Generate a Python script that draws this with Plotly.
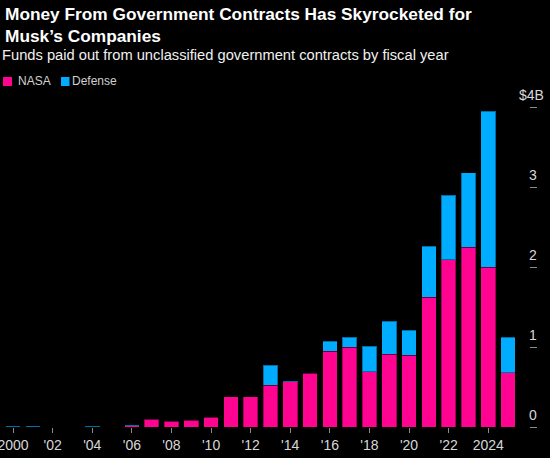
import plotly.graph_objects as go

years = list(range(2000, 2026))
nasa = [0.0, 0.0, 0.0, 0.0, 0.0, 0.0, 0.015, 0.096, 0.075, 0.083, 0.12, 0.38, 0.38,
        0.525, 0.565, 0.675, 0.95, 1.0, 0.69, 0.91, 0.90, 1.625, 2.09, 2.25, 2.0, 0.68]
defense = [0.012, 0.008, 0.005, 0.003, 0.008, 0.003, 0.004, 0.0, 0.006, 0.0, 0.0, 0.0, 0.0,
           0.245, 0.01, 0.0, 0.12, 0.12, 0.32, 0.415, 0.31, 0.635, 0.81, 0.93, 1.95, 0.445]

x_ticks = list(range(2000, 2025, 2))
x_labels = ["2000"] + ["'%02d" % (y % 100) for y in x_ticks[1:-1]] + ["2024"]
y_ticks = [0, 1, 2, 3, 4]
y_labels = ["0", "1", "2", "3", "$4B"]

pink = "#ff0391"
blue = "#00acff"
font = "Liberation Sans"

# plot area: 529 px wide, 332 px tall, top at 95 px
W, H, TOP = 529, 332, 95


def px_x(p):
    return p / W


def px_y(p):
    return 1 + (TOP - p) / H


fig = go.Figure()
fig.add_trace(go.Bar(x=years, y=nasa, name="NASA", marker_color=pink,
                     marker_line=dict(color="rgba(0,0,0,0.35)", width=1)))
fig.add_trace(go.Bar(x=years, y=defense, name="Defense", marker_color=blue,
                     marker_line=dict(color="rgba(0,0,0,0.35)", width=1)))

fig.update_layout(
    width=550, height=458,
    barmode="stack", bargap=0.26,
    paper_bgcolor="black", plot_bgcolor="black",
    margin=dict(l=0, r=21, t=95, b=31),
    font=dict(family=font, color="#d8d8d8"),
    showlegend=False,
)

# title + subtitle
fig.add_annotation(
    text="<b>Money From Government Contracts Has Skyrocketed for<br>Musk’s Companies</b>",
    xref="paper", yref="paper", x=px_x(3), y=px_y(2), xanchor="left", yanchor="top",
    align="left", showarrow=False, font=dict(family=font, size=17.3, color="white"),
)
fig.add_annotation(
    text="Funds paid out from unclassified government contracts by fiscal year",
    xref="paper", yref="paper", x=px_x(0), y=px_y(55), xanchor="left", yanchor="middle",
    showarrow=False, font=dict(family=font, size=14.7, color="#f0f0f0"),
)

# legend (manual so the swatch sits close to its label)
for name, color, x0, x1, xt in [("NASA", pink, 3, 12, 15.5), ("Defense", blue, 61, 69.5, 70)]:
    fig.add_shape(type="rect", xref="paper", yref="paper",
                  x0=px_x(x0), x1=px_x(x1), y0=px_y(86), y1=px_y(77),
                  fillcolor=color, line_width=0)
    fig.add_annotation(text=name, xref="paper", yref="paper", x=px_x(xt), y=px_y(81.5),
                       xanchor="left", yanchor="middle", showarrow=False,
                       font=dict(family=font, size=12, color="#d0d0d0"))

# y labels sit above their tick marks; the "$" hangs left of the digit column
for val, lab in zip(y_ticks, y_labels):
    hang = lab.startswith("$")
    fig.add_annotation(text=lab, xref="paper", yref="y", x=1, y=val,
                       xanchor="right" if hang else "left", yanchor="middle",
                       xshift=17 if hang else -2, yshift=12.5, showarrow=False,
                       font=dict(family=font, size=14, color="#d8d8d8"))

fig.update_xaxes(
    range=[1999.34, 2026.06], tickvals=x_ticks, ticktext=x_labels,
    showgrid=False, zeroline=False, showline=False, automargin=False,
    ticks="outside", ticklen=5, tickcolor="#8a8a8a", tickwidth=1,
    ticklabeloverflow="allow",
    tickfont=dict(size=14, color="#d8d8d8"),
)
fig.update_yaxes(
    range=[0, 4.15], side="right", tickvals=y_ticks, showticklabels=False,
    showgrid=False, zeroline=False, showline=False, automargin=False,
    ticks="outside", ticklen=7, tickcolor="#8a8a8a", tickwidth=1,
)

fig.write_html("out.html", config={"displayModeBar": False},
               post_script="document.body.style.margin='0';")
